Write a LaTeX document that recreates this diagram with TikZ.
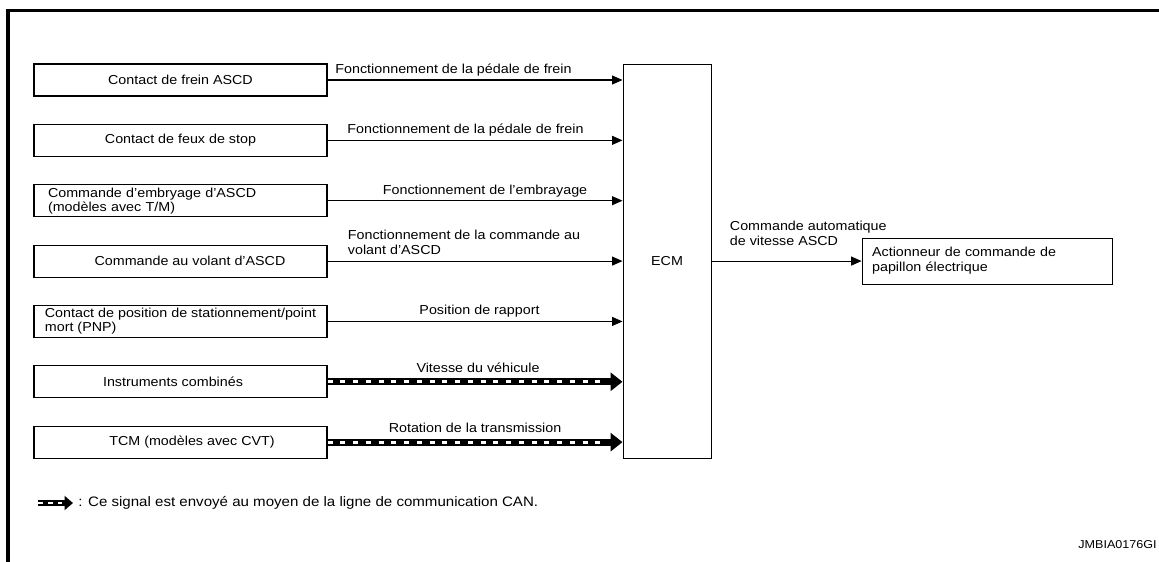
\documentclass[tikz,border=0pt]{standalone}
\usepackage{fontspec}
\setmainfont{Liberation Sans}[FakeStretch=1.1]
\usetikzlibrary{arrows.meta, positioning}

\begin{document}
\begin{tikzpicture}[
			node distance=0.546cm,
			unit/.style={rectangle, draw, line width=0.6pt, minimum width=5.86cm,
				minimum height=0.64cm, inner ysep=1pt, font=\fontsize{7.4}{6.2}\selectfont},
			ecmbox/.style={rectangle, draw, line width=0.6pt, minimum width=1.76cm,
				minimum height=7.88cm, font=\fontsize{7.4}{8.5}\selectfont},
			actbox/.style={rectangle, draw, line width=0.6pt, minimum width=5cm, minimum height=0.92cm,
				text width=4.6cm, inner xsep=0.2cm, align=left, font=\fontsize{7.4}{8.5}\selectfont},
			lbl/.style={above, inner sep=0pt, text depth=0pt, yshift=3.5pt, align=left,
				font=\fontsize{7.4}{8.5}\selectfont},
			arr/.style={line width=0.6pt, -{Triangle[length=0.21cm, width=0.18cm]}},
			can/.style={line width=0.14cm, -{Triangle[length=0.24cm, width=0.36cm]},
				postaction={draw, -, white, line width=0.06cm, dash pattern=on 0.1cm off 0.155cm, shorten >=0.32cm}},
			cansmall/.style={line width=0.12cm, -{Triangle[length=0.17cm, width=0.28cm]},
				postaction={draw, -, white, line width=0.05cm, dash pattern=on 0.1cm off 0.1cm, shorten >=0.22cm}},
			frame/.style={line width=1.9pt}
		]
			\useasboundingbox (0,0) rectangle (23.18,-11.22);
			\draw[frame] (0.16,-11.4) |- (23.4,-0.21);

			\node[unit] (frein) at (3.61,-1.6) {Contact de frein ASCD};
			\node[unit, below=of frein] (stop) {Contact de feux de stop};
			\node[unit, below=of stop, align=left, text width=5.3cm, inner xsep=0.28cm] (embr)
				{Commande d'embryage d'ASCD\\(modèles avec T/M)};
			\node[unit, below=of embr] (volant) {\hspace*{0.38cm}Commande au volant d'ASCD};
			\node[unit, below=of volant, align=left] (pnp)
				{Contact de position de stationnement/point\\mort (PNP)};
			\node[unit, below=of pnp] (combi) {Instruments combinés\hspace*{0.3cm}};
			\node[unit, below=of combi] (tcm) {\hspace*{0.46cm}TCM (modèles avec CVT)};

			\node[ecmbox, right=5.9cm of volant.east, anchor=west] (ecm) {ECM};
			\node[actbox, right=3cm of ecm] (act) {Actionneur de commande de\\papillon électrique};

			\draw[arr] (frein.east) -- (frein.east -| ecm.west)
				node[lbl, midway, xshift=-0.43cm] {Fonctionnement de la pédale de frein};
			\draw[arr] (stop.east) -- (stop.east -| ecm.west)
				node[lbl, midway, xshift=-0.19cm] {Fonctionnement de la pédale de frein};
			\draw[arr] (embr.east) -- (embr.east -| ecm.west)
				node[lbl, midway, xshift=0.2cm] {Fonctionnement de l'embrayage};
			\draw[arr] (volant.east) -- (volant.east -| ecm.west)
				node[lbl, midway, xshift=-0.22cm] {Fonctionnement de la commande au\\volant d'ASCD};
			\draw[arr] (pnp.east) -- (pnp.east -| ecm.west)
				node[lbl, midway, xshift=0.09cm] {Position de rapport};
			\draw[can] (combi.east) -- (combi.east -| ecm.west)
				node[lbl, midway, xshift=0.06cm] {Vitesse du véhicule};
			\draw[can] (tcm.east) -- (tcm.east -| ecm.west)
				node[lbl, midway] {Rotation de la transmission};

			\draw[arr] (ecm) -- (act);
			\node[anchor=south west, inner sep=0pt, text depth=0pt, align=left, font=\fontsize{7.4}{8.5}\selectfont]
				(cmd) at ([xshift=0.36cm, yshift=0.3cm]ecm.east) {Commande automatique\\de vitesse ASCD};

			\coordinate (legA) at (0.76,-10.06);
			\node[right=0.7cm of legA, inner xsep=0.1cm, font=\fontsize{7.8}{9}\selectfont] (legtxt)
				{: Ce signal est envoyé au moyen de la ligne de communication CAN.};
			\draw[cansmall] (legA) -- (legtxt.west);

			\node[anchor=east, inner sep=0pt, font=\fontsize{6.5}{8}\selectfont] (ref) at (23.14,-10.9) {JMBIA0176GI};
		\end{tikzpicture}
\end{document}
